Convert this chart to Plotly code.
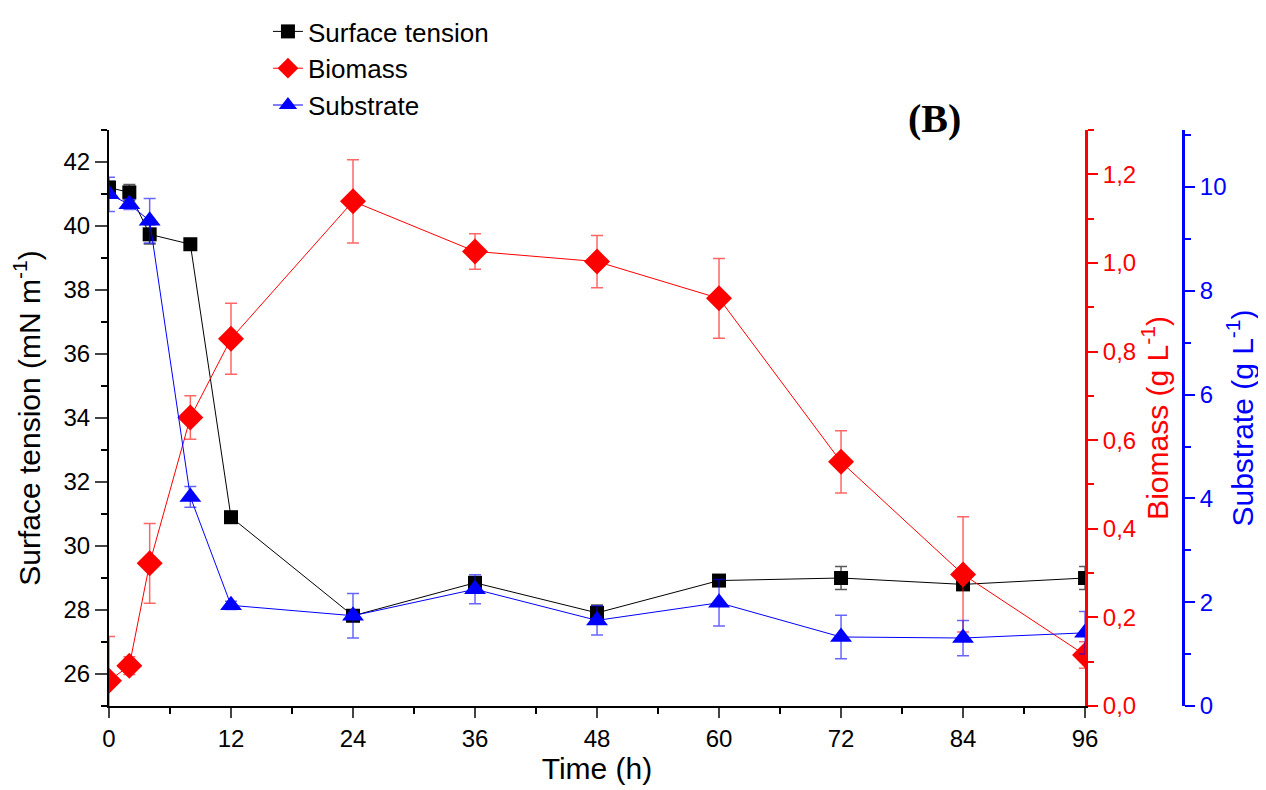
import plotly.graph_objects as go

# ---- data ----
time_h = [0, 2, 4, 8, 12, 24, 36, 48, 60, 72, 84, 96]

surface_tension = [41.2, 41.05, 39.74, 39.43, 30.9, 27.82, 28.85, 27.91, 28.92, 29.0, 28.8, 29.0]
surface_tension_err = [0.2, 0.25, 0.3, 0.0, 0.05, 0.15, 0.15, 0.25, 0.15, 0.36, 0.15, 0.36]

biomass = [0.057, 0.091, 0.322, 0.651, 0.829, 1.139, 1.026, 1.003, 0.92, 0.551, 0.297, 0.115]
biomass_err = [0.1, 0.02, 0.09, 0.049, 0.08, 0.094, 0.04, 0.059, 0.09, 0.07, 0.13, 0.03]

substrate = [9.86, 9.67, 9.35, 4.03, 1.94, 1.74, 2.25, 1.65, 1.99, 1.33, 1.31, 1.41]
substrate_err = [0.33, 0.1, 0.43, 0.2, 0.08, 0.43, 0.28, 0.28, 0.45, 0.42, 0.34, 0.41]

x_ticks = [0, 12, 24, 36, 48, 60, 72, 84, 96]
biomass_ticks = [0.0, 0.2, 0.4, 0.6, 0.8, 1.0, 1.2]
biomass_ticktext = ["0,0", "0,2", "0,4", "0,6", "0,8", "1,0", "1,2"]

FONT = "Arial, Liberation Sans, sans-serif"

fig = go.Figure()

fig.add_trace(go.Scatter(
    x=time_h, y=surface_tension, name="Surface tension",
    mode="lines+markers",
    line=dict(color="black", width=1),
    marker=dict(symbol="square", size=14, color="black"),
    error_y=dict(type="data", array=surface_tension_err, color="rgba(0,0,0,0.65)", thickness=1.5, width=6),
    yaxis="y",
))
fig.add_trace(go.Scatter(
    x=time_h, y=biomass, name="Biomass",
    mode="lines+markers",
    line=dict(color="red", width=1),
    marker=dict(symbol="diamond", size=20, color="red"),
    error_y=dict(type="data", array=biomass_err, color="rgba(255,0,0,0.6)", thickness=1.5, width=6),
    yaxis="y2",
))
fig.add_trace(go.Scatter(
    x=time_h, y=substrate, name="Substrate",
    mode="lines+markers",
    line=dict(color="blue", width=1),
    marker=dict(symbol="triangle-up", size=19, color="blue"),
    error_y=dict(type="data", array=substrate_err, color="rgba(0,0,255,0.6)", thickness=1.5, width=6),
    yaxis="y3",
))

fig.update_layout(
    width=1258, height=782,
    paper_bgcolor="white", plot_bgcolor="white",
    margin=dict(l=101, r=83, t=122, b=84, autoexpand=False),
    font=dict(family=FONT, size=24, color="black"),
    showlegend=True,
    legend=dict(
        x=0.148, y=1.0, xref="paper", yref="container",
        xanchor="left", yanchor="top",
        font=dict(size=26), bgcolor="rgba(0,0,0,0)",
        tracegroupgap=0, itemwidth=30,
    ),
    xaxis=dict(
        domain=[0, 0.9088], range=[0, 96],
        tickvals=x_ticks, ticks="outside", ticklen=10, tickwidth=2,
        minor=dict(dtick=6, tick0=0, ticks="outside", ticklen=6, tickwidth=2, tickcolor="black"),
        showline=True, linecolor="black", linewidth=2,
        showgrid=False, zeroline=False,
        title=dict(text="Time (h)", font=dict(size=30), standoff=2),
        tickfont=dict(size=24),
    ),
    yaxis=dict(
        range=[25, 43], dtick=2, tick0=0,
        ticks="outside", ticklen=12, tickwidth=2,
        minor=dict(dtick=1, ticks="outside", ticklen=6, tickwidth=2, tickcolor="black"),
        showline=True, linecolor="black", linewidth=2,
        showgrid=False, zeroline=False,
        title=dict(text="Surface tension (mN m<sup>-1</sup>)", font=dict(size=30), standoff=16),
        tickfont=dict(size=24),
    ),
    yaxis2=dict(
        overlaying="y", side="right", anchor="x",
        range=[0, 1.3], tickvals=biomass_ticks, ticktext=biomass_ticktext,
        ticks="outside", ticklen=10, tickwidth=2, tickcolor="red",
        minor=dict(dtick=0.1, tick0=0, ticks="outside", ticklen=6, tickwidth=2, tickcolor="red"),
        showline=True, linecolor="red", linewidth=3,
        showgrid=False, zeroline=False,
        tickfont=dict(color="red", size=24),
        title=dict(text="Biomass (g L<sup>-1</sup>)", font=dict(color="red", size=30), standoff=4),
    ),
    yaxis3=dict(
        overlaying="y", side="right", anchor="free", position=1.0,
        range=[0, 11.1], dtick=2, tick0=0,
        ticks="outside", ticklen=10, tickwidth=2, tickcolor="blue",
        minor=dict(dtick=1, ticks="outside", ticklen=6, tickwidth=2, tickcolor="blue"),
        showline=True, linecolor="blue", linewidth=3,
        showgrid=False, zeroline=False,
        tickfont=dict(color="blue", size=24),
        title=dict(text="Substrate (g L<sup>-1</sup>)", font=dict(color="blue", size=30), standoff=6),
    ),
    annotations=[dict(
        text="<b>(B)</b>", x=0.769, y=1.02, xref="paper", yref="paper",
        xanchor="center", yanchor="middle", showarrow=False,
        font=dict(family="Times New Roman, Liberation Serif, serif", size=40, color="black"),
    )],
)

fig.write_html("out.html")
